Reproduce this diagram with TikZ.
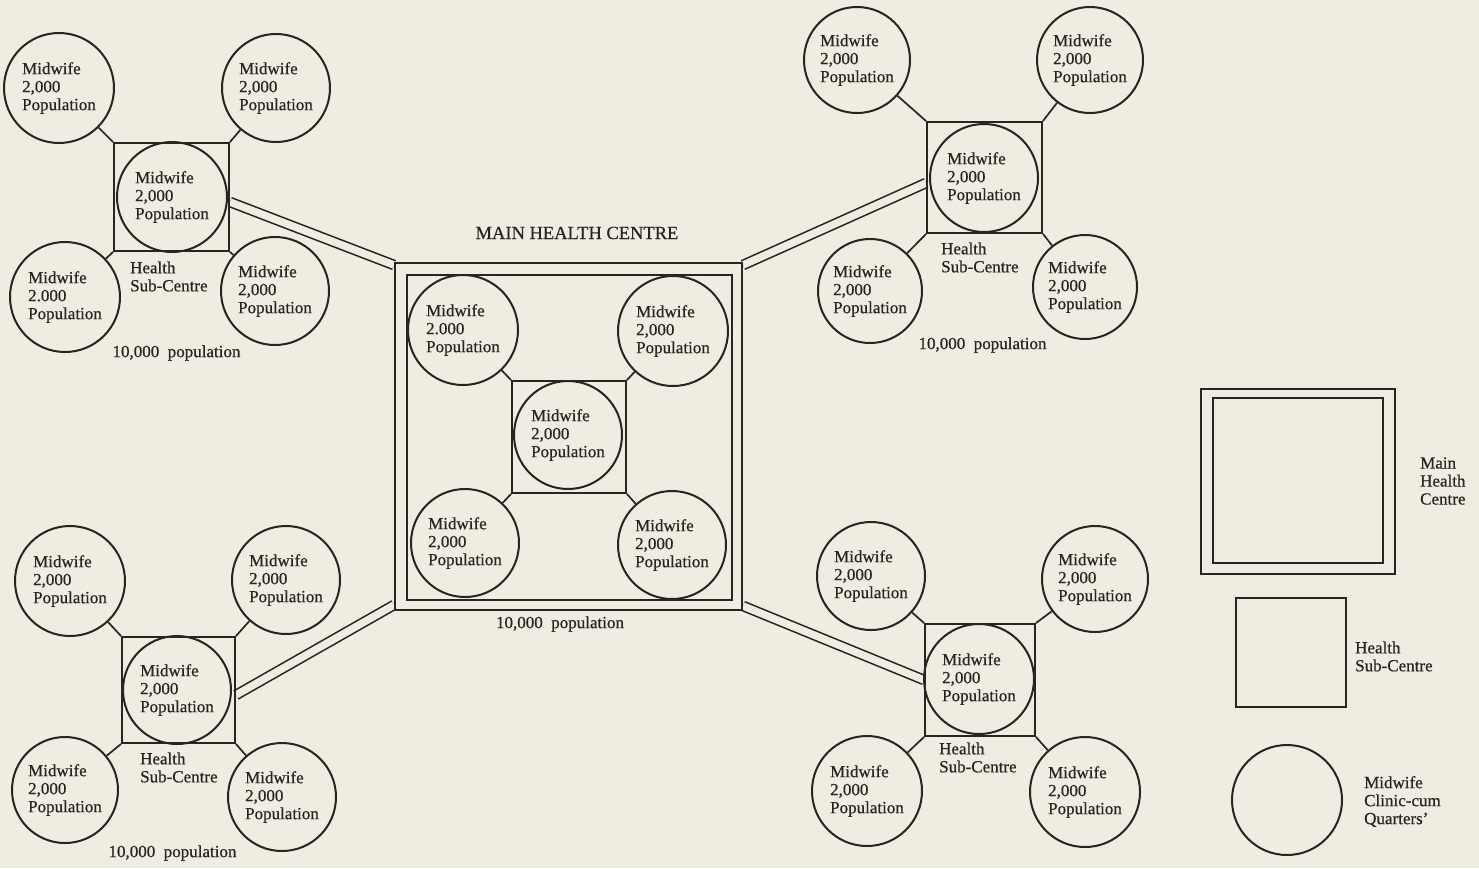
\documentclass[tikz,border=0pt]{standalone}
\usepackage{fontspec}
\setmainfont{Liberation Serif}[FakeBold=0.6]
\definecolor{bg}{RGB}{240,236,226}
\definecolor{ink}{RGB}{40,36,32}
\newcommand\mwfont{\fontsize{17}{18}\selectfont}
\pgfdeclarelayer{bgfill}
\pgfdeclarelayer{roads}
\pgfsetlayers{bgfill,roads,main}
\begin{document}
\begin{tikzpicture}[x=1pt,y=-1pt,
  mw/.style={circle, draw=ink, line width=2pt, minimum size=108pt, inner sep=0pt, align=left, font=\mwfont, text=ink},
  sq/.style={draw=ink, line width=1.9pt, inner sep=0pt},
  lbl/.style={align=left, font=\mwfont, text=ink, inner sep=0pt},
  link/.style={draw=ink, line width=1.7pt},
  road/.style={draw=ink, line width=1.6pt, double=bg, double distance=7.5pt}]
\begin{pgfonlayer}{bgfill}
\fill[bg] (0,0) rectangle (1479,868);
\end{pgfonlayer}
\useasboundingbox (0,0) rectangle (1479,868);

% ---------- top-left cluster ----------
\node[sq, minimum width=115pt, minimum height=108pt] (asq) at (171.5,197) {};
\node[mw, minimum size=110pt] (a3) at (172,197) {Midwife\\2,000\\Population};
\node[mw, minimum size=110pt] (a1) at (59,88) {Midwife\\2,000\\Population};
\node[mw] (a2) at (276,88) {Midwife\\2,000\\Population};
\node[mw, minimum size=110pt] (a4) at (65,297) {Midwife\\2.000\\Population};
\node[mw] (a5) at (275,291) {Midwife\\2,000\\Population};
\draw[link] (a1) -- (asq.north west);
\draw[link] (a2) -- (asq.north east);
\draw[link] (a4) -- (asq.south west);
\draw[link] (a5) -- (asq.south east);
\node[lbl, anchor=west] (alab) at (130,276.5) {Health\\Sub-Centre};
\node[lbl] (apop) at (176.5,353) {10,000\ \ population};

% ---------- main health centre ----------
\node[sq, minimum width=347pt, minimum height=347pt] (mo) at (568.5,436.5) {};
\node[sq, minimum width=325pt, minimum height=325pt] (mi) at (569.5,437.5) {};
\node[sq, minimum width=114pt, minimum height=112pt] (msq) at (569,437) {};
\node[mw] (m3) at (568,435) {Midwife\\2,000\\Population};
\node[mw, minimum size=110pt] (m1) at (463,330) {Midwife\\2.000\\Population};
\node[mw, minimum size=110pt] (m2) at (673,331) {Midwife\\2,000\\Population};
\node[mw] (m4) at (465,543) {Midwife\\2,000\\Population};
\node[mw] (m5) at (672,545) {Midwife\\2,000\\Population};
\draw[link] (m1) -- (msq.north west);
\draw[link] (m2) -- (msq.north east);
\draw[link] (m4) -- (msq.south west);
\draw[link] (m5) -- (msq.south east);
\node[lbl, font=\fontsize{18.5}{20}\selectfont] (mtitle) at (577,233) {MAIN HEALTH CENTRE};
\node[lbl] (mpop) at (560,624) {10,000\ \ population};

% ---------- top-right cluster ----------
\node[sq, minimum width=115pt, minimum height=111pt] (bsq) at (984.5,177.5) {};
\node[mw] (b3) at (984,178) {Midwife\\2,000\\Population};
\node[mw, minimum size=106pt] (b1) at (857,60) {Midwife\\2,000\\Population};
\node[mw, minimum size=106pt] (b2) at (1090,60) {Midwife\\2,000\\Population};
\node[mw, minimum size=104pt] (b4) at (870,291) {Midwife\\2,000\\Population};
\node[mw, minimum size=104pt] (b5) at (1085,287) {Midwife\\2,000\\Population};
\draw[link] (b1) -- (bsq.north west);
\draw[link] (b2) -- (bsq.north east);
\draw[link] (b4) -- (bsq.south west);
\draw[link] (b5) -- (bsq.south east);
\node[lbl, anchor=west] (blab) at (941,257.5) {Health\\Sub-Centre};
\node[lbl] (bpop) at (982.5,345) {10,000\ \ population};

% ---------- bottom-right cluster ----------
\node[sq, minimum width=110pt, minimum height=112pt] (dsq) at (980,680) {};
\node[mw, minimum size=110pt] (d3) at (979,679) {Midwife\\2,000\\Population};
\node[mw] (d1) at (871,576) {Midwife\\2,000\\Population};
\node[mw, minimum size=106pt] (d2) at (1095,579) {Midwife\\2,000\\Population};
\node[mw, minimum size=110pt] (d4) at (867,791) {Midwife\\2,000\\Population};
\node[mw, minimum size=110pt] (d5) at (1085,792) {Midwife\\2,000\\Population};
\draw[link] (d1) -- (dsq.north west);
\draw[link] (d2) -- (dsq.north east);
\draw[link] (d4) -- (dsq.south west);
\draw[link] (d5) -- (dsq.south east);
\node[lbl, anchor=west] (dlab) at (939,757.5) {Health\\Sub-Centre};

% ---------- bottom-left cluster ----------
\node[sq, minimum width=113pt, minimum height=106pt] (csq) at (178.5,690) {};
\node[mw] (c3) at (177,690) {Midwife\\2,000\\Population};
\node[mw, minimum size=110pt] (c1) at (70,581) {Midwife\\2,000\\Population};
\node[mw] (c2) at (286,580) {Midwife\\2,000\\Population};
\node[mw, minimum size=106pt] (c4) at (65,790) {Midwife\\2,000\\Population};
\node[mw] (c5) at (282,797) {Midwife\\2,000\\Population};
\draw[link] (c1) -- (csq.north west);
\draw[link] (c2) -- (csq.north east);
\draw[link] (c4) -- (csq.south west);
\draw[link] (c5) -- (csq.south east);
\node[lbl, anchor=west] (clab) at (140,767.5) {Health\\Sub-Centre};
\node[lbl] (cpop) at (172.5,853) {10,000\ \ population};

% ---------- roads ----------
\begin{pgfonlayer}{roads}
\draw[road] ([yshift=-5pt]asq.east) -- ([yshift=-3pt]mo.north west);
\draw[road] ([yshift=-3pt]mo.north east) -- ([yshift=-5.5pt]bsq.west);
\draw[road] ([yshift=5pt]mo.south east) -- (dsq.west);
\draw[road] ([yshift=-5pt]csq.east) -- ([yshift=6pt]mo.south west);
\end{pgfonlayer}

% ---------- legend ----------
\node[sq, minimum width=194pt, minimum height=185pt] (lgo) at (1298,481.5) {};
\node[sq, minimum width=170pt, minimum height=165pt] (lgi) at (1298,480.5) {};
\node[lbl, anchor=west] (lgotxt) at (1420,481) {Main\\Health\\Centre};
\node[sq, minimum width=110pt, minimum height=109pt] (lgs) at (1291,652.5) {};
\node[lbl, anchor=west] (lgstxt) at (1355,656.5) {Health\\Sub-Centre};
\node[mw, minimum size=110pt] (lgc) at (1287,800) {};
\node[lbl, anchor=west] (lgctxt) at (1364,801.5) {Midwife\\Clinic-cum\\Quarters’};
\end{tikzpicture}
\end{document}
